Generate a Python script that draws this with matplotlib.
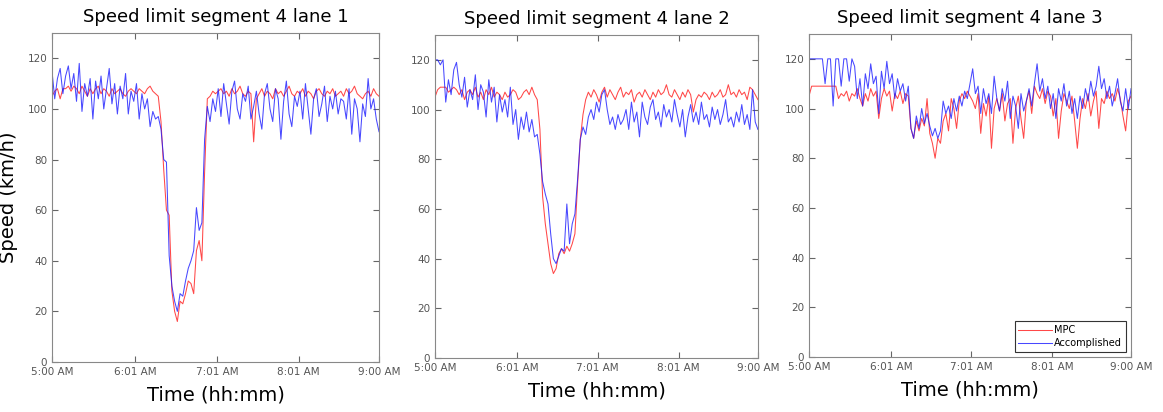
import numpy as np
import matplotlib
matplotlib.use("Agg")
import matplotlib.pyplot as plt

# minutes after 5:00 AM, one sample every 2 minutes
minutes = np.arange(0, 241, 2)

tick_minutes = [0, 61, 121, 181, 240]
tick_labels = ["5:00 AM", "6:01 AM", "7:01 AM", "8:01 AM", "9:00 AM"]

lane1_mpc = [
    105, 107, 108, 104, 108, 108, 109, 107, 109, 108,
    106, 109, 107, 105, 108, 106, 108, 109, 106, 108,
    107, 105, 108, 106, 107, 108, 106, 105, 107, 108,
    107, 106, 108, 107, 106, 108, 109, 107, 106, 105,
    95, 76, 60, 58, 28, 20, 16, 24, 23, 27,
    32, 31, 27, 44, 48, 40, 75, 104, 105, 107,
    106, 107, 108, 106, 107, 105, 108, 106, 107, 109,
    106, 105, 107, 106, 87, 104, 106, 108, 105, 107,
    106, 104, 108, 106, 107, 105, 107, 109, 106, 105,
    107, 106, 108, 105, 107, 106, 104, 107, 108, 106,
    105, 107, 106, 108, 105, 106, 107, 105, 108, 106,
    107, 109, 106, 105, 104, 106, 107, 105, 108, 106,
    105]
lane1_acc = [
    115, 104, 112, 116, 106, 113, 117, 108, 114, 103,
    118, 99, 110, 105, 112, 96, 111, 104, 113, 100,
    108, 116, 102, 110, 98, 109, 104, 114, 98, 107,
    103, 110, 96, 106, 100, 104, 93, 99, 96, 97,
    92, 80, 79, 42, 30, 24, 20, 27, 26, 32,
    37, 40, 44, 61, 52, 55, 88, 101, 95, 104,
    99, 108, 97, 110, 102, 94, 107, 111, 100, 96,
    106, 103, 109, 96, 101, 107, 98, 92, 106, 110,
    100, 95, 108, 104, 88, 103, 111, 98, 93, 105,
    101, 107, 96, 110, 100, 90, 104, 108, 97, 102,
    109, 95, 105, 100, 107, 98, 104, 103, 96, 108,
    90, 104, 100, 87, 102, 97, 112, 100, 104, 96,
    91]

lane2_mpc = [
    105, 108, 109, 109, 109, 107, 108, 109, 108, 106,
    108, 104, 107, 108, 106, 109, 105, 107, 104, 108,
    106, 109, 105, 107, 106, 104, 107, 105, 106, 108,
    107, 104, 105, 107, 108, 106, 109, 106, 104, 92,
    65, 54, 46, 38, 34, 36, 42, 44, 42, 45,
    43, 46, 50, 70, 88, 98, 104, 107, 105, 108,
    106, 103, 107, 109, 105, 108, 106, 104, 107, 109,
    105, 107, 106, 108, 103, 106, 107, 105, 108, 106,
    104, 107, 105, 108, 106, 107, 110, 106, 105, 108,
    106, 104, 107, 105, 108, 106, 99, 104, 106, 105,
    107, 106, 104, 107, 105, 106, 108, 105, 106, 110,
    106, 107, 105, 108, 106, 107, 104, 109, 108, 106,
    104]
lane2_acc = [
    120, 120, 118, 120, 103, 112, 106, 116, 119, 110,
    105, 113, 101, 108, 104, 114, 100, 110, 107, 97,
    112, 103, 109, 95, 106, 99, 104, 97, 109, 94,
    100, 88, 97, 92, 99, 91, 96, 89, 90, 82,
    71, 66, 62, 50, 40, 38, 41, 44, 43, 62,
    46, 54, 58, 72, 88, 93, 90, 97, 100, 96,
    103, 99, 106, 108, 100, 94, 97, 92, 98, 94,
    96, 100, 92, 103, 95, 99, 89, 103, 97, 94,
    101, 104, 96, 99, 93, 102, 97, 100, 95, 104,
    98, 93, 100, 89, 97, 102, 95, 99, 94, 103,
    96, 98, 93, 101, 96, 100, 94, 98, 104, 95,
    97, 93, 99, 95, 102, 94, 98, 92, 108, 95,
    92]

lane3_mpc = [
    105, 109, 109, 109, 109, 109, 109, 109, 109, 109,
    109, 104, 106, 105, 107, 103, 106, 105, 108, 104,
    101, 106, 103, 108, 105, 107, 96, 104, 108, 105,
    107, 99, 106, 104, 107, 102, 106, 105, 92, 88,
    95, 91, 96, 93, 104, 90, 86, 80, 88, 86,
    95, 98, 91, 104, 100, 92, 103, 106, 104, 107,
    105, 103, 100, 106, 90, 102, 97, 105, 84, 100,
    104, 99, 106, 95, 102, 104, 86, 100, 105, 96,
    88, 103, 107, 98, 109, 106, 104, 108, 102, 107,
    105, 97, 104, 88, 99, 106, 103, 100, 105, 95,
    84, 96, 104, 100, 106, 97, 103, 107, 92, 104,
    102, 107, 104, 106, 103, 108, 104, 97, 91, 103,
    105]
lane3_acc = [
    120, 120, 120, 120, 120, 120, 110, 120, 120, 101,
    120, 120, 109, 120, 120, 111, 120, 117, 104, 112,
    101, 114, 108, 118, 110, 113, 98, 115, 108, 119,
    110, 114, 104, 112, 107, 110, 103, 109, 92, 88,
    97, 92, 100, 94, 98, 93, 89, 92, 88, 91,
    103, 98, 101, 96, 104, 99, 105, 101, 107, 104,
    110, 116, 106, 109, 98, 108, 102, 106, 98, 113,
    104, 99, 108, 103, 111, 96, 105, 101, 92, 106,
    99, 103, 108, 101, 110, 118, 107, 112, 104, 109,
    100, 106, 96, 108, 103, 110, 101, 107, 98, 104,
    96, 105, 100, 108, 103, 111, 105, 109, 117, 108,
    112, 104, 109, 101, 106, 112, 103, 99, 108, 100,
    108]

panels = [
    ("Speed limit segment 4 lane 1", lane1_mpc, lane1_acc),
    ("Speed limit segment 4 lane 2", lane2_mpc, lane2_acc),
    ("Speed limit segment 4 lane 3", lane3_mpc, lane3_acc),
]
positions = [
    [0.0447, 0.1214, 0.2812, 0.7985],
    [0.3740, 0.1310, 0.2777, 0.7840],
    [0.6956, 0.1335, 0.2769, 0.7840],
]

fig = plt.figure(figsize=(11.63, 4.12), dpi=100)

for i, (title, mpc, acc) in enumerate(panels):
    ax = fig.add_axes(positions[i])
    ax.plot(minutes, mpc, color="#ff1a1a", lw=0.75, alpha=0.8, label="MPC")
    ax.plot(minutes, acc, color="#1a1aff", lw=0.75, alpha=0.8, label="Accomplished")
    ax.set_xlim(0, 240)
    ax.set_ylim(0, 130)
    ax.set_yticks(range(0, 121, 20))
    ax.set_xticks(tick_minutes)
    ax.set_xticklabels(tick_labels)
    ax.tick_params(direction="in", top=True, right=True, length=4,
                   labelsize=7.5, labelcolor="#555555", color="#666666")
    for s in ax.spines.values():
        s.set_color("#888888")
    ax.set_title(title, fontsize=13, pad=8)
    ax.set_xlabel("Time (hh:mm)", fontsize=14, labelpad=6)
    if i == 0:
        ax.set_ylabel("Speed (km/h)", fontsize=14)
        ax.yaxis.set_label_coords(-0.105, 0.5)
    if i == 2:
        leg = ax.legend(loc="lower right", fontsize=7, fancybox=False,
                        framealpha=1, borderpad=0.4, handlelength=3.5,
                        handletextpad=0.2, labelspacing=0.3)
        leg.get_frame().set_edgecolor("#333333")
        leg.get_frame().set_linewidth(0.8)

fig.savefig("out.png", dpi=100)
